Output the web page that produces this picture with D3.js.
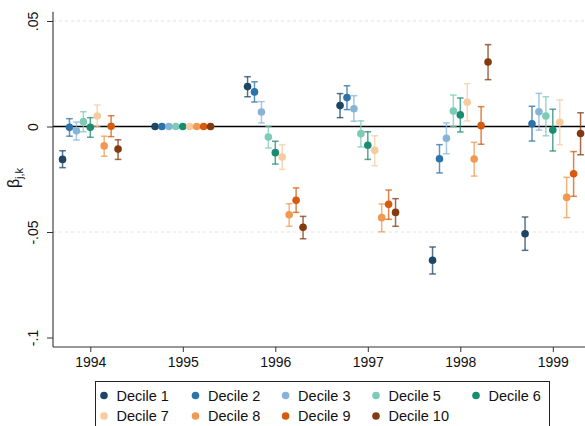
<!DOCTYPE html>
<html><head><meta charset="utf-8">
<script src="https://cdn.jsdelivr.net/npm/d3@7"></script>
<style>body{margin:0;background:#fff}svg{display:block}text{font-family:"Liberation Sans",Arial,sans-serif}</style>
</head><body><div id="chart"></div>
<script>
const years = [1994, 1995, 1996, 1997, 1998, 1999];
const deciles = ["Decile 1","Decile 2","Decile 3","Decile 5","Decile 6","Decile 7","Decile 8","Decile 9","Decile 10"];
const colors = ["#1c4566","#2b73a8","#86b4d9","#7ccbb7","#198c72","#f7cba0","#f0994f","#d75b0f","#84390f"];
const yTicks = [0.05, 0, -0.05, -0.1];
const yTickLabels = [".05","0","-.05","-.1"];

const coef = [
  [-0.0156, 0, 0.0189, 0.0099, -0.0634, -0.0508],
  [-0.0004, 0, 0.0164, 0.0137, -0.0153, 0.0013],
  [-0.0020, 0, 0.0069, 0.0084, -0.0056, 0.0070],
  [0.0023, 0, -0.0050, -0.0034, 0.0073, 0.0050],
  [-0.0004, 0, -0.0124, -0.0089, 0.0055, -0.0017],
  [0.0050, 0, -0.0145, -0.0113, 0.0115, 0.0020],
  [-0.0092, 0, -0.0418, -0.0432, -0.0154, -0.0336],
  [0.0001, 0, -0.0350, -0.0369, 0.0004, -0.0224],
  [-0.0107, 0, -0.0478, -0.0407, 0.0306, -0.0033]
];
const ciLow = [
  [-0.0195, null, 0.0141, 0.0042, -0.0699, -0.0587],
  [-0.0046, null, 0.0116, 0.0080, -0.0220, -0.0069],
  [-0.0064, null, 0.0017, 0.0025, -0.0129, -0.0017],
  [-0.0025, null, -0.0102, -0.0097, -0.0001, -0.0044],
  [-0.0051, null, -0.0178, -0.0156, -0.0026, -0.0116],
  [-0.0002, null, -0.0203, -0.0186, 0.0026, -0.0086],
  [-0.0141, null, -0.0473, -0.0499, -0.0235, -0.0432],
  [-0.0048, null, -0.0407, -0.0440, -0.0084, -0.0331],
  [-0.0156, null, -0.0532, -0.0473, 0.0222, -0.0134]
];
const ciHigh = [
  [-0.0115, null, 0.0236, 0.0156, -0.0571, -0.0429],
  [0.0037, null, 0.0212, 0.0193, -0.0086, 0.0096],
  [0.0021, null, 0.0118, 0.0146, 0.0017, 0.0157],
  [0.0070, null, 0.0002, 0.0027, 0.0149, 0.0141],
  [0.0042, null, -0.0070, -0.0025, 0.0135, 0.0082],
  [0.0102, null, -0.0086, -0.0044, 0.0203, 0.0126],
  [-0.0046, null, -0.0366, -0.0367, -0.0075, -0.0241],
  [0.0051, null, -0.0291, -0.0301, 0.0094, -0.0119],
  [-0.0063, null, -0.0426, -0.0342, 0.0388, 0.0065]
];

const W = 585, H = 426;
const svg = d3.select("#chart").append("svg").attr("width", W).attr("height", H);

const x0 = 53, xRight = 585, yTop = 11.7, yBot = 347;
const x = d3.scaleLinear().domain([1994, 1999]).range([90.3, 552.8]);
const y = d3.scaleLinear().domain([0.05, -0.1]).range([21, 337.5]);
const dodge = 0.075;

// gridlines
svg.append("g").selectAll("line").data(yTicks.filter(v => v !== 0 && v !== -0.1)).join("line")
  .attr("x1", x0).attr("x2", xRight).attr("y1", d => y(d)).attr("y2", d => y(d))
  .attr("stroke", "#e0e0e0").attr("stroke-width", 1).attr("stroke-dasharray", "3,3");
// zero line
svg.append("line").attr("x1", x0).attr("x2", xRight).attr("y1", y(0)).attr("y2", y(0))
  .attr("stroke", "#000").attr("stroke-width", 1.3);

// y axis
const yAxis = d3.axisLeft(y).tickValues(yTicks).tickSize(6).tickFormat((d, i) => yTickLabels[i]);
const gy = svg.append("g").attr("transform", `translate(${x0},0)`).call(yAxis);
gy.select(".domain").remove();
gy.append("line").attr("x1", 0).attr("x2", 0).attr("y1", yTop).attr("y2", yBot).attr("stroke", "#333").attr("stroke-width", 1.1);
gy.selectAll(".tick line").attr("stroke", "#333");
gy.selectAll(".tick text").attr("font-size", 14).attr("fill", "#111")
  .attr("text-anchor", "middle").attr("dy", null).attr("x", null)
  .attr("transform", "translate(-20,0) rotate(-90)").attr("dominant-baseline", "central");

// x axis
const xAxis = d3.axisBottom(x).tickValues(years).tickSize(5).tickFormat(d3.format("d"));
const gx = svg.append("g").attr("transform", `translate(0,${yBot})`).call(xAxis);
gx.select(".domain").remove();
gx.append("line").attr("x1", x0).attr("x2", xRight).attr("y1", 0).attr("y2", 0).attr("stroke", "#333").attr("stroke-width", 1.1);
gx.selectAll(".tick line").attr("stroke", "#333");
gx.selectAll(".tick text").attr("font-size", 14).attr("fill", "#111").attr("y", 9).attr("dy", "0.75em");

// y title
const yt = svg.append("text").attr("transform", "translate(19,178) rotate(-90)")
  .attr("text-anchor", "middle").attr("font-size", 16).attr("fill", "#111");
yt.append("tspan").text("β");
yt.append("tspan").text("j,k").attr("font-size", 11).attr("dy", 4);

// series
deciles.forEach((name, i) => {
  const g = svg.append("g");
  const pts = years.map((yr, k) => ({xv: yr + (i - 4) * dodge, c: coef[i][k], lo: ciLow[i][k], hi: ciHigh[i][k]}));
  const ci = pts.filter(d => d.lo !== null);
  g.selectAll("line.v").data(ci).join("line").attr("class", "v")
    .attr("x1", d => x(d.xv)).attr("x2", d => x(d.xv)).attr("y1", d => y(d.lo)).attr("y2", d => y(d.hi))
    .attr("stroke", colors[i]).attr("stroke-opacity", 0.75).attr("stroke-width", 1.5);
  ["lo", "hi"].forEach(key => {
    g.selectAll("line.c" + key).data(ci).join("line").attr("class", "c" + key)
      .attr("x1", d => x(d.xv) - 3.3).attr("x2", d => x(d.xv) + 3.3).attr("y1", d => y(d[key])).attr("y2", d => y(d[key]))
      .attr("stroke", colors[i]).attr("stroke-opacity", 0.75).attr("stroke-width", 1.5);
  });
  g.selectAll("circle").data(pts).join("circle")
    .attr("cx", d => x(d.xv)).attr("cy", d => y(d.c)).attr("r", 3.8).attr("fill", colors[i]);
});

// legend
const lg = svg.append("g");
lg.append("rect").attr("x", 95.5).attr("y", 381.5).attr("width", 454).attr("height", 60)
  .attr("fill", "#fff").attr("stroke", "#222").attr("stroke-width", 1);
const colX = [104, 195.5, 285.6, 376, 476];
const rowY = [395.5, 416];
deciles.forEach((name, i) => {
  const cx = colX[i % 5], cy = rowY[Math.floor(i / 5)];
  lg.append("circle").attr("cx", cx).attr("cy", cy).attr("r", 3.8).attr("fill", colors[i]);
  lg.append("text").attr("x", cx + 12.5).attr("y", cy).attr("dominant-baseline", "central")
    .attr("font-size", 14.5).attr("fill", "#111").text(name);
});
</script></body></html>
